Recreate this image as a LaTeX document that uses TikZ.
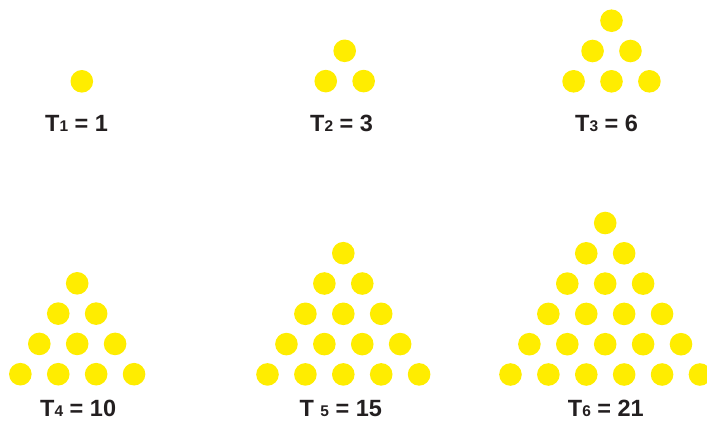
\documentclass[tikz,border=0pt]{standalone}
\usepackage{fontspec}
\setmainfont{Liberation Sans}
\definecolor{dotyellow}{RGB}{255,237,0}
\definecolor{labelink}{RGB}{35,31,32}
\newcommand\dottri[3]{%
  \foreach \r in {1,...,#3} {
    \foreach \k in {1,...,\r} {
      \fill[dot] ({#1 + (2*\k-\r-1)*18.95}, {#2 + (\r-1)*30.3}) circle (11.3pt);
    }
  }%
}
\newcommand\subdig[1]{{\fontsize{15.5}{18}\selectfont #1}}
\begin{document}
\begin{tikzpicture}[x=1pt,y=-1pt,
  dot/.style={fill=dotyellow},
  lbl/.style={anchor=base west,inner sep=0pt,text=labelink,font=\fontsize{23.5}{28}\selectfont\bfseries}]
\useasboundingbox (0,0) rectangle (707,421);
\dottri{81.8}{81.3}{1}
\dottri{344.7}{50.8}{2}
\dottri{611.5}{20.7}{3}
\dottri{77.2}{283.3}{4}
\dottri{343.3}{253.2}{5}
\dottri{605.2}{223}{6}
\node[lbl] (l1) at (45,131.5) {T\subdig{1} = 1};
\node[lbl] (l2) at (310,131.5) {T\subdig{2} = 3};
\node[lbl] (l3) at (575,131.5) {T\subdig{3} = 6};
\node[lbl] (l4) at (40,416.8) {T\subdig{4} = 10};
\node[lbl] (l5) at (299.3,416.8) {T \subdig{5} = 15};
\node[lbl] (l6) at (567.7,416.8) {T\subdig{6} = 21};
\end{tikzpicture}
\end{document}
